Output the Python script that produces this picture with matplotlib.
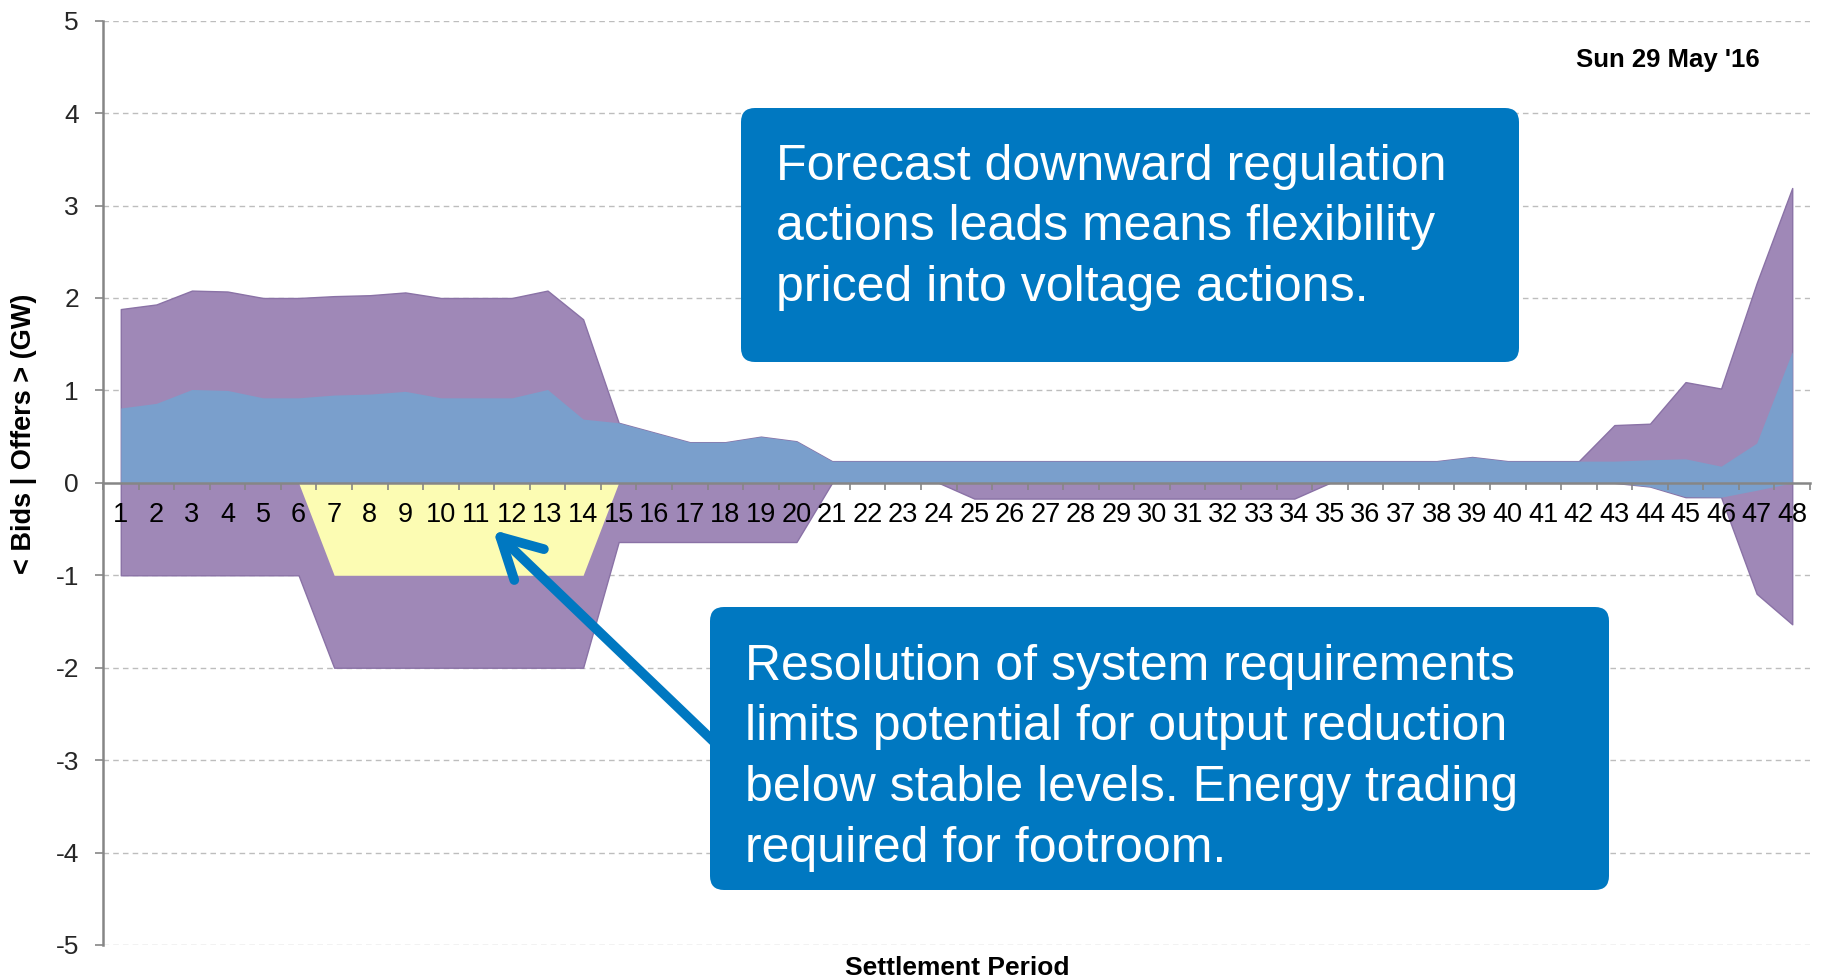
import numpy as np
import matplotlib
matplotlib.use('Agg')
import matplotlib.pyplot as plt
from matplotlib.patches import FancyBboxPatch

plt.rcParams['font.family'] = ['Liberation Sans', 'DejaVu Sans']
plt.rcParams['axes.unicode_minus'] = False

# dados (GW) por periodo de liquidacao
periods = list(range(1, 49))

offers_max = [1.88, 1.93, 2.08, 2.07, 2.00, 2.00, 2.02, 2.03, 2.06, 2.00,
              2.00, 2.00, 2.08, 1.77, 0.65, 0.545, 0.44, 0.44, 0.50, 0.45,
              0.235, 0.235, 0.235, 0.235, 0.235, 0.235, 0.235, 0.235, 0.235, 0.235,
              0.235, 0.235, 0.235, 0.235, 0.235, 0.235, 0.235, 0.235, 0.28, 0.235,
              0.235, 0.235, 0.625, 0.64, 1.09, 1.02, 2.16, 3.19]

offers = [0.81, 0.86, 1.01, 1.00, 0.92, 0.92, 0.95, 0.96, 0.99, 0.92,
          0.92, 0.92, 1.01, 0.69, 0.65, 0.545, 0.44, 0.44, 0.50, 0.45,
          0.235, 0.235, 0.235, 0.235, 0.235, 0.235, 0.235, 0.235, 0.235, 0.235,
          0.235, 0.235, 0.235, 0.235, 0.235, 0.235, 0.235, 0.235, 0.28, 0.235,
          0.235, 0.235, 0.235, 0.25, 0.26, 0.18, 0.43, 1.42]

bids_max = [-1.0, -1.0, -1.0, -1.0, -1.0, -1.0, -2.0, -2.0, -2.0, -2.0,
            -2.0, -2.0, -2.0, -2.0, -0.64, -0.64, -0.64, -0.64, -0.64, -0.64,
            0, 0, 0, 0, -0.17, -0.17, -0.17, -0.17, -0.17, -0.17,
            -0.17, -0.17, -0.17, -0.17, 0, 0, 0, 0, 0, 0,
            0, 0, 0, -0.04, -0.155, -0.155, -1.2, -1.53]

bids = [0] * 43 + [-0.04, -0.15, -0.155, -0.08, 0]

stable_limit = [0, 0, 0, 0, 0, 0, -1, -1, -1, -1,
                -1, -1, -1, -1] + [0] * 34

y_ticks = list(range(-5, 6))

date_txt = "Sun 29 May '16"
box1_lines = ['Forecast downward regulation',
              'actions leads means flexibility',
              'priced into voltage actions.']
box2_lines = ['Resolution of system requirements',
              'limits potential for output reduction',
              'below stable levels. Energy trading',
              'required for footroom.']

roxo = '#9f88b7'
azul = '#7a9fcc'
amarelo = '#fcfcb3'
caixa = '#0078c1'

fig = plt.figure(figsize=(18.21, 9.77), dpi=100)
ax = fig.add_axes([103 / 1821, 1 - 945 / 977, 1707 / 1821, (945 - 20.7) / 977])

# grade atras das areas
for yv in y_ticks:
    if yv != 0:
        ax.axhline(yv, color='#bdbdbd', linestyle=(0, (4, 3)), lw=1, zorder=0.2)

ax.fill_between(periods, 0, offers_max, color=roxo, edgecolor='#8a72a6', lw=1, zorder=1.0)
ax.fill_between(periods, 0, bids_max, color=roxo, edgecolor='#8a72a6', lw=1, zorder=1.0)
ax.fill_between(periods, 0, offers, color=azul, lw=0, zorder=1.2)
ax.fill_between(periods, 0, bids, color=azul, lw=0, zorder=1.2)
ax.fill_between(periods, 0, stable_limit, color=amarelo, lw=0, zorder=1.4)

ax.set_xlim(0.5, 48.5)
ax.set_ylim(-5, 5)
ax.set_yticks(y_ticks)
ax.set_axisbelow(False)

ax.set_xticks(periods)
ax.set_xticklabels([str(p) for p in periods])
ax.set_xticks(np.arange(0.5, 49, 1), minor=True)
ax.tick_params(axis='x', which='major', length=0, pad=13.5, labelsize=19.5, labelcolor='black')
ax.tick_params(axis='x', which='minor', length=5, width=1.2, color='#868686', direction='out')
ax.tick_params(axis='y', length=5.8, width=1.2, color='#868686', pad=11.5, labelsize=19,
               labelcolor='#262626')

for s in ['top', 'right']:
    ax.spines[s].set_visible(False)
ax.spines['bottom'].set_position(('data', 0))
for s in ['left', 'bottom']:
    ax.spines[s].set_color('#868686')
    ax.spines[s].set_linewidth(1.8)

# camada de anotacoes em pixels
ov = fig.add_axes([0, 0, 1, 1], zorder=10)
ov.set_xlim(0, 1821)
ov.set_ylim(977, 0)
ov.axis('off')
ov.patch.set_visible(False)

ov.text(1760, 66.7, date_txt, ha='right', va='baseline', fontsize=18.5, fontweight='bold')
ov.text(957.5, 975, 'Settlement Period', ha='center', va='baseline', fontsize=19, fontweight='bold')
ov.text(24, 434, '< Bids | Offers > (GW)', ha='center', va='center', rotation=90,
        fontsize=19.5, fontweight='bold')

ov.annotate('', xy=(493, 530), xytext=(735, 762),
            arrowprops=dict(arrowstyle='->,head_length=1.3,head_width=0.7', color=caixa,
                            lw=7, shrinkA=0, shrinkB=0, mutation_scale=22,
                            capstyle='round', joinstyle='round'))

ov.add_patch(FancyBboxPatch((741, 108), 778, 254, boxstyle='round,pad=0,rounding_size=14',
                            facecolor=caixa, edgecolor='none', zorder=3))
ov.add_patch(FancyBboxPatch((710, 607), 899, 283, boxstyle='round,pad=0,rounding_size=14',
                            facecolor=caixa, edgecolor='none', zorder=3))

for i, linha in enumerate(box1_lines):
    ov.text(776, 180 + i * 60.5, linha, color='white', fontsize=36, va='baseline', zorder=4)
for i, linha in enumerate(box2_lines):
    ov.text(745, 680 + i * 60.5, linha, color='white', fontsize=36, va='baseline', zorder=4)

fig.savefig('out.png', dpi=100)
